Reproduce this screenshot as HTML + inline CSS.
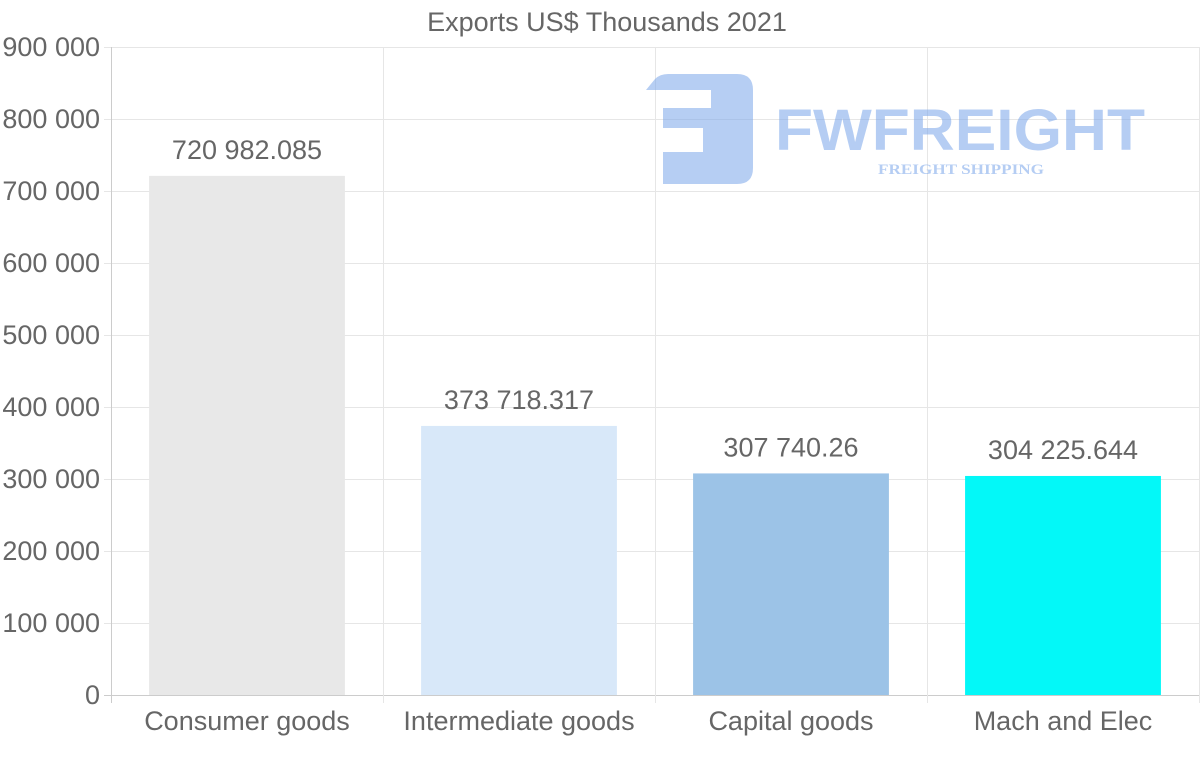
<!DOCTYPE html>
<html><head><meta charset="utf-8"><style>
html,body{margin:0;padding:0;background:#fff;width:1200px;height:763px;overflow:hidden}
svg{display:block;font-family:"Liberation Sans",Arial,sans-serif}
</style></head><body>
<svg id="chart" width="1200" height="763" viewBox="0 0 1200 763" xmlns="http://www.w3.org/2000/svg">
<text x="607" y="31" text-anchor="middle" font-size="27" fill="#666">Exports US$ Thousands 2021</text>
<g id="grid"></g>
<g id="logo" opacity="0.55">
<path d="M646 90 L655 79 Q660 74 668 74 H737 Q753 74 753 90 V168 Q753 184 737 184 H663 V152 H703 V128 H663 V108 H711 V90 Z" fill="#7aa6ea"/>
<text x="775" y="150" font-size="58" font-weight="bold" fill="#7aa6ea" textLength="370" lengthAdjust="spacingAndGlyphs">FWFREIGHT</text>
<text x="878" y="174" font-size="15" font-weight="bold" font-family="Liberation Serif,serif" fill="#7aa6ea" textLength="166" lengthAdjust="spacingAndGlyphs">FREIGHT SHIPPING</text>
</g>
<g id="bars"></g>
<g id="axes"></g>
</svg>
<script>
const categories = ["Consumer goods","Intermediate goods","Capital goods","Mach and Elec"];
const values = [720982.085, 373718.317, 307740.26, 304225.644];
const valueLabels = ["720 982.085","373 718.317","307 740.26","304 225.644"];
const colors = ["#e8e8e8","#d8e8f9","#9cc3e7","#03f8f8"];
const yTicks = [0,100000,200000,300000,400000,500000,600000,700000,800000,900000];
const yTickLabels = ["0","100 000","200 000","300 000","400 000","500 000","600 000","700 000","800 000","900 000"];

const NS="http://www.w3.org/2000/svg";
const L=111,R=1199,T=47,B=695,yMax=900000;
const y=v=>B-(v/yMax)*(B-T);
const band=(R-L)/categories.length;
const x=i=>L+band*i;
function mk(tag,attrs,parent){const e=document.createElementNS(NS,tag);for(const k in attrs)e.setAttribute(k,attrs[k]);parent.appendChild(e);return e;}
const grid=document.getElementById('grid'),bars=document.getElementById('bars'),axes=document.getElementById('axes');
yTicks.forEach((t,i)=>{
  const ln=mk('line',{x1:104,x2:R,y1:y(t)+0.5,y2:y(t)+0.5,stroke:i===0?'#ccc':'#e6e6e6','stroke-width':1},grid);
  
  
  const tx=mk('text',{x:100,y:y(t)+9,'text-anchor':'end','font-size':27,fill:'#666'},axes);
  tx.textContent=yTickLabels[i];
  
  
});
for(let i=0;i<=categories.length;i++){
  const ln=mk('line',{x1:x(i)+0.5,x2:x(i)+0.5,y1:T,y2:703,stroke:i===0?'#ccc':'#e6e6e6','stroke-width':1},grid);
  
  
}
categories.forEach((c,i)=>{
  const bw=band*0.72, bx=x(i)+(band-bw)/2;
  const r=mk('rect',{x:bx,y:y(values[i]),width:bw,height:B-y(values[i]),fill:colors[i]},bars);
  
  
  const vl=mk('text',{x:x(i)+band/2,y:y(values[i])-17,'text-anchor':'middle','font-size':27,fill:'#666'},bars);
  vl.textContent=valueLabels[i];
  
  
  const cl=mk('text',{x:x(i)+band/2,y:730,'text-anchor':'middle','font-size':27,fill:'#666'},axes);
  cl.textContent=c;
  
  
});
</script>
</body></html>
